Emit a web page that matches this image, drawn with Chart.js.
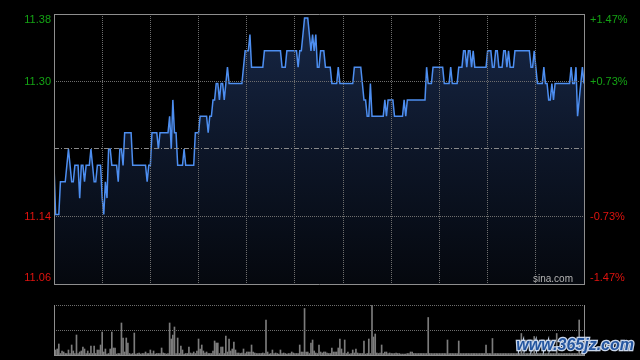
<!DOCTYPE html>
<html>
<head>
<meta charset="utf-8">
<script src="https://cdn.jsdelivr.net/npm/chart.js@4.4.0/dist/chart.umd.min.js"></script>
<style>
  html, body { margin: 0; padding: 0; background: #000; }
  #wrap { position: relative; width: 640px; height: 360px; overflow: hidden; background: #000; }
  #priceBox { position: absolute; left: 0; top: 0; width: 640px; height: 290px; }
  #volBox { position: absolute; left: 0; top: 290px; width: 640px; height: 70px; }
</style>
</head>
<body>
<div id="wrap">
  <div id="priceBox"><canvas id="priceChart" width="640" height="290"></canvas></div>
  <div id="volBox"><canvas id="volChart" width="640" height="70"></canvas></div>
</div>
<script>
// intraday minutes 9:30-12:00, 13:00-16:00 (331 points), one price per minute
const prices = [
  11.20,11.14,11.14,11.14,11.18,11.18,11.18,11.18,11.20,11.22,
  11.20,11.18,11.18,11.20,11.20,11.20,11.16,11.20,11.20,11.18,
  11.20,11.20,11.20,11.22,11.20,11.18,11.18,11.20,11.20,11.20,
  11.16,11.14,11.18,11.16,11.22,11.22,11.20,11.20,11.20,11.20,
  11.18,11.22,11.22,11.20,11.24,11.24,11.24,11.24,11.24,11.20,
  11.20,11.20,11.20,11.20,11.20,11.20,11.20,11.20,11.18,11.20,
  11.20,11.24,11.24,11.24,11.24,11.22,11.24,11.24,11.24,11.24,
  11.24,11.24,11.26,11.22,11.28,11.24,11.24,11.20,11.20,11.20,
  11.20,11.22,11.20,11.20,11.20,11.20,11.20,11.20,11.24,11.24,
  11.24,11.26,11.26,11.26,11.26,11.26,11.24,11.26,11.26,11.28,
  11.28,11.30,11.30,11.28,11.30,11.30,11.28,11.30,11.32,11.30,
  11.30,11.30,11.30,11.30,11.30,11.30,11.30,11.30,11.32,11.34,
  11.34,11.34,11.36,11.32,11.32,11.32,11.32,11.32,11.32,11.32,
  11.32,11.34,11.34,11.34,11.34,11.34,11.34,11.34,11.34,11.34,
  11.34,11.34,11.32,11.32,11.32,11.34,11.34,11.34,11.34,11.34,
  11.34,11.34,11.32,11.34,11.34,11.36,11.38,11.38,11.38,11.36,
  11.34,11.36,11.34,11.36,11.32,11.32,11.34,11.34,11.34,11.32,
  11.32,11.32,11.32,11.30,11.30,11.30,11.30,11.32,11.30,11.30,
  11.30,11.30,11.30,11.30,11.30,11.30,11.30,11.32,11.32,11.32,
  11.32,11.32,11.30,11.28,11.28,11.26,11.26,11.30,11.26,11.26,
  11.26,11.26,11.26,11.26,11.26,11.26,11.28,11.26,11.28,11.28,
  11.28,11.28,11.26,11.26,11.26,11.26,11.26,11.26,11.28,11.26,
  11.28,11.28,11.28,11.28,11.28,11.28,11.28,11.28,11.28,11.28,
  11.28,11.28,11.32,11.30,11.30,11.30,11.32,11.32,11.32,11.32,
  11.32,11.32,11.32,11.30,11.30,11.30,11.30,11.32,11.30,11.30,
  11.30,11.30,11.32,11.32,11.32,11.34,11.34,11.32,11.34,11.34,
  11.32,11.34,11.32,11.32,11.32,11.32,11.32,11.32,11.32,11.32,
  11.34,11.34,11.34,11.32,11.32,11.34,11.34,11.32,11.32,11.32,
  11.34,11.34,11.32,11.34,11.32,11.32,11.32,11.34,11.34,11.34,
  11.34,11.34,11.34,11.34,11.34,11.34,11.34,11.32,11.32,11.34,
  11.32,11.30,11.30,11.30,11.30,11.32,11.30,11.30,11.28,11.28,
  11.30,11.28,11.30,11.30,11.30,11.30,11.30,11.30,11.30,11.30,
  11.30,11.30,11.32,11.30,11.30,11.32,11.26,11.28,11.30,11.32,
  11.30
];

// volume per minute, relative units (max = 100)
const volumes = [
  3,10,12,22,3,8,6,3,3,10,
  3,20,8,3,40,3,6,8,16,12,
  3,8,3,18,3,18,3,10,10,20,
  46,6,12,2,3,12,46,14,14,2,
  3,3,64,34,6,34,24,3,2,3,
  44,2,3,4,2,3,3,6,3,3,
  10,3,8,2,3,3,3,14,4,3,
  2,3,64,32,40,56,3,34,3,18,
  10,2,3,3,16,4,3,6,3,8,
  32,12,20,8,4,6,3,3,3,8,
  28,24,24,3,16,16,3,38,6,32,
  8,12,26,10,4,4,3,4,12,3,
  6,6,6,20,6,4,3,3,3,3,
  4,3,70,6,2,3,10,3,4,3,
  2,10,3,4,3,2,3,3,6,4,
  3,3,3,20,6,6,93,6,6,3,
  24,30,8,4,3,20,6,4,6,6,
  4,3,3,14,6,6,6,14,32,12,
  4,30,3,6,2,3,10,4,12,4,
  3,3,3,28,2,3,32,3,100,36,
  42,4,3,4,20,3,6,6,3,4,
  3,3,3,4,3,3,2,2,2,2,
  3,3,6,6,3,3,3,3,3,3,
  3,3,3,75,3,3,3,3,3,3,
  3,3,3,3,3,30,3,3,3,3,
  3,3,28,3,3,3,3,3,3,3,
  3,3,3,3,3,3,3,3,3,20,
  3,3,3,33,3,3,3,3,3,3,
  3,3,3,3,3,3,3,3,3,3,
  3,43,3,3,3,3,3,3,3,37,
  3,3,3,3,3,3,3,3,3,3,
  3,3,3,43,3,3,3,3,3,3,
  3,3,3,3,3,3,3,70,3,3,
  3
];

const prevClose = 11.22;
const priceMin = 11.055;
const priceMax = 11.385;
const priceTicks = [11.385, 11.3025, 11.1375, 11.055];
const priceLabels = ['11.38', '11.30', '11.14', '11.06'];
const pctLabels = ['+1.47%', '+0.73%', '-0.73%', '-1.47%'];
const gridMinutes = [30, 60, 90, 120, 150, 180, 210, 240, 270, 300];
const volTicks = [0, 50, 100];

const GREEN = '#14a314';
const RED = '#e0130f';
const FRAME = '#8e8e8e';
const GRID = '#6e6e6e';

// solid box round the plot area
const framePlugin = {
  id: 'frame',
  afterDraw(chart, args, opts) {
    const { ctx, chartArea: a } = chart;
    ctx.save();
    ctx.strokeStyle = FRAME;
    ctx.lineWidth = 1;
    ctx.setLineDash([]);
    ctx.beginPath();
    if (opts.top) { ctx.moveTo(a.left, a.top + 0.5); ctx.lineTo(a.right + 1, a.top + 0.5); }
    ctx.moveTo(a.left + 0.5, a.top); ctx.lineTo(a.left + 0.5, a.bottom + 1);
    ctx.moveTo(a.right + 0.5, a.top); ctx.lineTo(a.right + 0.5, a.bottom + 1);
    ctx.moveTo(a.left, a.bottom + 0.5); ctx.lineTo(a.right + 1, a.bottom + 0.5);
    ctx.stroke();
    ctx.restore();
  }
};

// price / percent labels on both sides
const sideLabels = {
  id: 'sideLabels',
  afterDraw(chart) {
    const { ctx, chartArea: a } = chart;
    const y = chart.scales.y;
    ctx.save();
    ctx.font = '11px "Liberation Sans", Arial, sans-serif';
    ctx.textBaseline = 'middle';
    priceTicks.forEach((v, i) => {
      let py = y.getPixelForValue(v);
      py = Math.min(Math.max(py, a.top + 6), a.bottom - 6);
      ctx.fillStyle = v > prevClose ? GREEN : RED;
      ctx.textAlign = 'right';
      ctx.fillText(priceLabels[i], a.left - 3, py);
      ctx.textAlign = 'left';
      ctx.fillText(pctLabels[i], a.right + 6, py);
    });
    ctx.fillStyle = '#b4b4b4';
    ctx.font = '10px "Liberation Sans", Arial, sans-serif';
    ctx.textAlign = 'right';
    ctx.textBaseline = 'alphabetic';
    ctx.fillText('sina.com', a.right - 11, a.bottom - 2);
    ctx.restore();
  }
};

let fillGrad = null;
function areaFill(context) {
  const { chart } = context;
  const a = chart.chartArea;
  if (!a) return 'rgba(20,34,62,1)';
  if (!fillGrad) {
    fillGrad = chart.ctx.createLinearGradient(0, a.top, 0, a.bottom);
    fillGrad.addColorStop(0, 'rgb(23,39,70)');
    fillGrad.addColorStop(0.5, 'rgb(13,22,40)');
    fillGrad.addColorStop(1, 'rgb(5,8,14)');
  }
  return fillGrad;
}

const priceChart = new Chart(document.getElementById('priceChart'), {
  type: 'line',
  data: {
    datasets: [{
      data: prices.map((p, i) => ({ x: i, y: p })),
      borderColor: '#4d8ef0',
      borderWidth: 1.5,
      pointRadius: 0,
      tension: 0,
      fill: 'start',
      backgroundColor: areaFill
    }]
  },
  options: {
    responsive: false,
    animation: false,
    devicePixelRatio: 1,
    layout: { padding: { left: 54, right: 56, top: 14, bottom: 6 } },
    plugins: { legend: { display: false }, tooltip: { enabled: false }, frame: { top: true } },
    scales: {
      x: {
        type: 'linear', min: 0, max: 330,
        afterBuildTicks: (s) => { s.ticks = gridMinutes.map(v => ({ value: v })); },
        ticks: { display: false },
        grid: { color: GRID, drawTicks: false, z: 1 },
        border: { display: false, dash: [1, 1] }
      },
      y: {
        min: priceMin, max: priceMax,
        afterBuildTicks: (s) => { s.ticks = [priceTicks[1], prevClose, priceTicks[2]].map(v => ({ value: v })); },
        ticks: { display: false },
        grid: {
          drawTicks: false, z: 1,
          color: (c) => c.tick && Math.abs(c.tick.value - prevClose) < 1e-6 ? '#8a8a8a' : GRID
        },
        border: {
          display: false,
          dash: (c) => c.tick && Math.abs(c.tick.value - prevClose) < 1e-6 ? [5, 2, 1, 2] : [1, 1]
        }
      }
    }
  },
  plugins: [framePlugin, sideLabels]
});

// watermark bottom right
const watermark = {
  id: 'watermark',
  afterDraw(chart) {
    const { ctx } = chart;
    ctx.save();
    ctx.font = 'italic bold 16px "Liberation Sans", Arial, sans-serif';
    ctx.textAlign = 'right';
    ctx.textBaseline = 'middle';
    ctx.lineWidth = 2.5;
    ctx.strokeStyle = '#c9d6ea';
    ctx.strokeText('www.365jz.com', 634, 56);
    ctx.fillStyle = '#24559f';
    ctx.fillText('www.365jz.com', 634, 56);
    ctx.restore();
  }
};

const volChart = new Chart(document.getElementById('volChart'), {
  type: 'bar',
  data: {
    datasets: [{
      data: volumes.map((v, i) => ({ x: i, y: v })),
      backgroundColor: '#7c7c7c',
      barThickness: 1,
      borderWidth: 0
    }]
  },
  options: {
    responsive: false,
    animation: false,
    devicePixelRatio: 1,
    layout: { padding: { left: 54, right: 56, top: 15, bottom: 5 } },
    plugins: { legend: { display: false }, tooltip: { enabled: false }, frame: { top: false } },
    scales: {
      x: {
        type: 'linear', min: 0, max: 330, offset: false,
        ticks: { display: false },
        grid: { display: false, drawTicks: false, offset: false },
        border: { display: false }
      },
      y: {
        min: 0, max: 100,
        afterBuildTicks: (s) => { s.ticks = volTicks.slice(1).map(v => ({ value: v })); },
        ticks: { display: false },
        grid: { color: GRID, drawTicks: false, z: 1 },
        border: { display: false, dash: [1, 1] }
      }
    }
  },
  plugins: [framePlugin, watermark]
});
</script>
</body>
</html>
